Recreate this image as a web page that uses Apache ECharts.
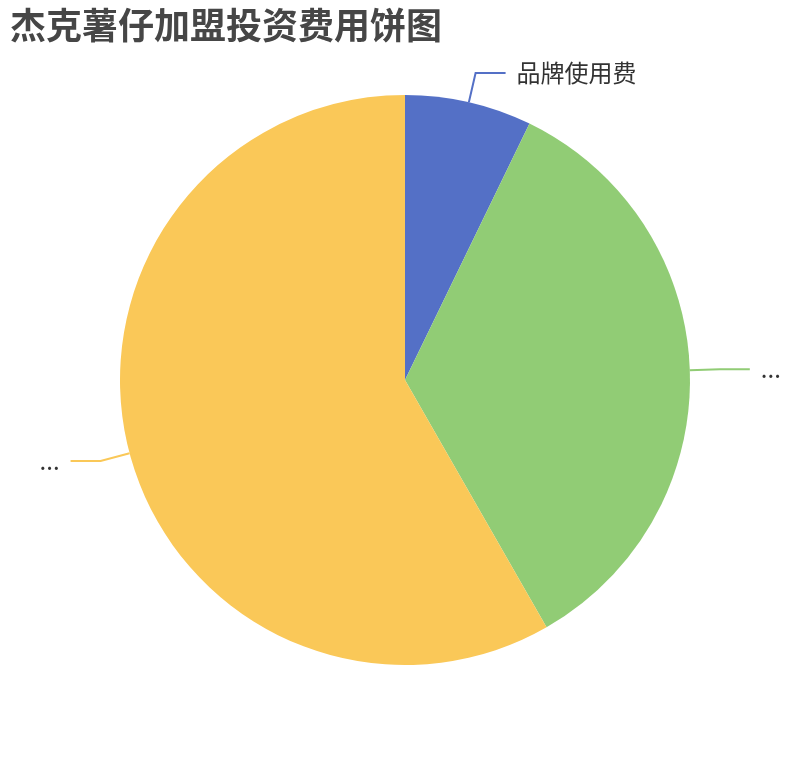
<!DOCTYPE html>
<html>
<head>
<meta charset="utf-8">
<script src="https://cdn.jsdelivr.net/npm/echarts@6/dist/echarts.min.js"></script>
<style>
html,body{margin:0;padding:0;background:#fff;}
#chart{width:810px;height:760px;}
</style>
</head>
<body>
<div id="chart"></div>
<script>
var titleText = '杰克薯仔加盟投资费用饼图';
var categories = ['品牌使用费', '店铺装修及设备购置费用', '首批进货及流动资金费用'];
var values = [5, 24, 40.5];
var colors = ['#5470c6', '#91cc75', '#fac858'];

var chart = echarts.init(document.getElementById('chart'));
chart.setOption({
  animation: false,
  color: colors,
  title: {
    text: titleText,
    left: 5,
    top: 2,
    textStyle: {
      fontSize: 36,
      fontWeight: 'bold',
      color: '#464646',
      fontFamily: 'Noto Sans CJK SC'
    }
  },
  series: [{
    type: 'pie',
    left: 12,
    right: 0,
    top: 0,
    bottom: 0,
    radius: 285,
    center: [393, 380],
    data: categories.map(function (c, i) { return { name: c, value: values[i] }; }),
    label: {
      fontSize: 24,
      color: '#333',
      fontFamily: 'Noto Sans CJK SC',
      distanceToLabelLine: 11
    },
    labelLine: {
      length: 30,
      length2: 30,
      lineStyle: { width: 2 }
    },
    itemStyle: { borderWidth: 0 }
  }]
});
</script>
</body>
</html>
